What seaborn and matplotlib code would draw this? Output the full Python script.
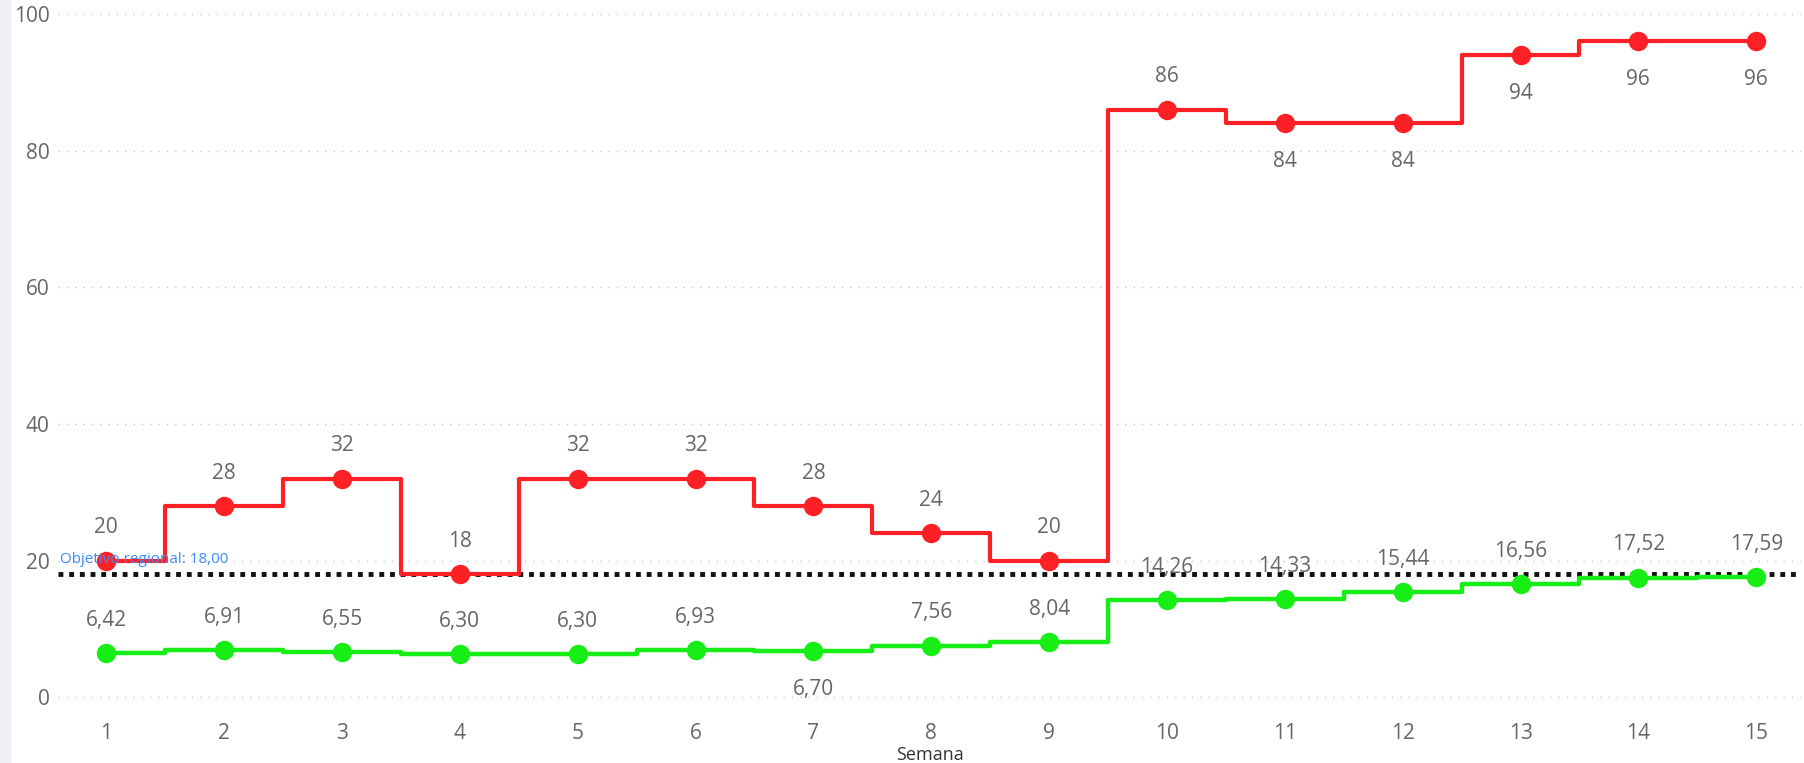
import numpy as np
import pandas as pd
import seaborn as sns
import matplotlib.pyplot as plt
from matplotlib.patches import Rectangle

# Data
semanas = list(range(1, 16))
rojo = [20, 28, 32, 18, 32, 32, 28, 24, 20, 86, 84, 84, 94, 96, 96]
verde = [6.42, 6.91, 6.55, 6.30, 6.30, 6.93, 6.70, 7.56, 8.04, 14.26, 14.33, 15.44, 16.56, 17.52, 17.59]
objetivo = 18.00
# label placement: True = above the point
rojo_arriba = [True, True, True, True, True, True, True, True, True, True, False, False, False, False, False]
verde_arriba = [True, True, True, True, True, True, False, True, True, True, True, True, True, True, True]

df = pd.DataFrame({'Semana': semanas, 'rojo': rojo, 'verde': verde})

sns.set_style('white')
plt.rcParams['font.family'] = ['Open Sans', 'DejaVu Sans']

fig = plt.figure(figsize=(18.04, 7.63), dpi=100)
# left grey strip
fig.patches.append(Rectangle((0, 0), 10 / 1804, 1, transform=fig.transFigure,
                             color='#eef0f4', zorder=0))
ax = fig.add_axes([58 / 1804, 48 / 763, 1743 / 1804, 710 / 763])

red = '#fd2126'
green = '#16ee16'
txt = '#666666'

sns.lineplot(data=df, x='Semana', y='rojo', ax=ax, color=red, lw=3,
             drawstyle='steps-mid', marker='o', markersize=14, markeredgewidth=0, zorder=3)
sns.lineplot(data=df, x='Semana', y='verde', ax=ax, color=green, lw=3.2,
             drawstyle='steps-mid', marker='o', markersize=14, markeredgewidth=0, zorder=3)

ax.axhline(objetivo, color='#111111', lw=3.5, ls=(0, (1, 1.2)), zorder=2)
ax.text(0.61, objetivo + 1.0, 'Objetivo regional: ' + f'{objetivo:.2f}'.replace('.', ','),
        color='#3a8cff', fontsize=11, ha='left', va='bottom', zorder=4)

for x, v, up in zip(semanas, rojo, rojo_arriba):
    ax.annotate(str(v), (x, v), xytext=(0, 16 if up else -20), textcoords='offset points',
                ha='center', va='bottom' if up else 'top', fontsize=15, color=txt)
for x, v, up in zip(semanas, verde, verde_arriba):
    ax.annotate(f'{v:.2f}'.replace('.', ','), (x, v), xytext=(0, 16 if up else -20),
                textcoords='offset points', ha='center', va='bottom' if up else 'top',
                fontsize=15, color=txt)

ax.set_xlim(0.59, 15.38)
ax.set_ylim(-2.6, 101.3)
ax.set_xticks(semanas)
ax.set_yticks(range(0, 101, 20))
ax.tick_params(axis='both', labelsize=15, colors=txt, length=0, pad=6)
ax.yaxis.grid(True, color='#c8c8c8', ls=(0, (1, 5)), lw=1)
ax.xaxis.grid(False)
for s in ax.spines.values():
    s.set_visible(False)
ax.set_ylabel('')
ax.set_xlabel('Semana', fontsize=13, color='#333333', labelpad=1)
ax.patch.set_alpha(0)

fig.savefig('out.png', dpi=100)
